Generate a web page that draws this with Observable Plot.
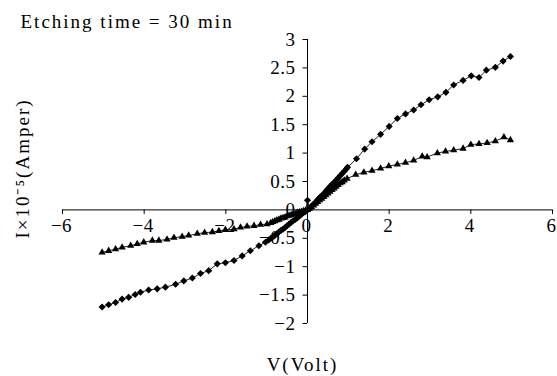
<!DOCTYPE html>
<html>
<head>
<meta charset="utf-8">
<script src="https://cdn.jsdelivr.net/npm/d3@7"></script>
<script src="https://cdn.jsdelivr.net/npm/@observablehq/plot@0.6"></script>
<style>
  html, body { margin: 0; padding: 0; background: #fff; }
  #chart svg text { letter-spacing: 2px; }
  #chart svg .ticklab text { letter-spacing: 0.5px; }
</style>
</head>
<body>
<div id="chart"></div>
<script>
const title = "Etching time = 30 min";
const xLabel = "V(Volt)";
const yLabel = "I×10⁻⁵(Amper)";
const xTicks = [-6, -4, -2, 0, 2, 4, 6];
const yTicks = [-2, -1.5, -1, -0.5, 0, 0.5, 1, 1.5, 2, 2.5, 3];

// Diamond series (steeper curve)
const diamondV = [-5.03, -4.87, -4.70, -4.54, -4.38, -4.22, -4.09, -3.89, -3.68, -3.48, -3.23, -3.03, -2.82, -2.62, -2.42, -2.21, -2.01, -1.80, -1.60, -1.40, -1.19, -1.03,
  -0.95, -0.90, -0.85, -0.80, -0.75, -0.70, -0.65, -0.60, -0.55, -0.50, -0.45, -0.40, -0.35, -0.30, -0.25, -0.20, -0.15, -0.10, -0.05, 0.00,
  0.05, 0.10, 0.15, 0.20, 0.25, 0.30, 0.35, 0.40, 0.45, 0.50, 0.55, 0.60, 0.65, 0.70, 0.75, 0.80, 0.85, 0.90, 0.95, 0.98,
  1.20, 1.40, 1.58, 1.79, 2.00, 2.20, 2.40, 2.60, 2.78, 2.98, 3.19, 3.39, 3.58, 3.81, 4.01, 4.20, 4.38, 4.60, 4.79, 4.97];
const diamondI = [-1.71, -1.67, -1.63, -1.57, -1.54, -1.49, -1.45, -1.41, -1.39, -1.36, -1.31, -1.25, -1.20, -1.12, -1.07, -0.95, -0.93, -0.89, -0.81, -0.72, -0.63, -0.57,
  -0.53, -0.50, -0.48, -0.45, -0.42, -0.39, -0.36, -0.34, -0.31, -0.28, -0.25, -0.22, -0.19, -0.17, -0.14, -0.11, -0.08, -0.05, -0.03, 0.17,
  0.03, 0.07, 0.10, 0.14, 0.18, 0.22, 0.25, 0.29, 0.33, 0.37, 0.41, 0.45, 0.48, 0.52, 0.56, 0.60, 0.64, 0.68, 0.72, 0.75,
  0.90, 1.07, 1.20, 1.33, 1.47, 1.61, 1.69, 1.76, 1.85, 1.94, 1.99, 2.07, 2.20, 2.28, 2.36, 2.33, 2.46, 2.51, 2.62, 2.70];

// Triangle series (flatter curve)
const triangleV = [-5.03, -4.87, -4.70, -4.54, -4.33, -4.17, -4.01, -3.80, -3.64, -3.44, -3.27, -3.07, -2.91, -2.70, -2.52, -2.33, -2.17, -2.01, -1.80, -1.64, -1.48, -1.31, -1.15, -0.99,
  -0.90, -0.85, -0.80, -0.75, -0.70, -0.65, -0.60, -0.55, -0.50, -0.45, -0.40, -0.35, -0.30, -0.25, -0.20, -0.15, -0.10, -0.05, 0.00,
  0.05, 0.10, 0.15, 0.20, 0.25, 0.30, 0.35, 0.40, 0.45, 0.50, 0.55, 0.60, 0.65, 0.70, 0.75, 0.80, 0.85, 0.90, 0.97,
  1.18, 1.38, 1.58, 1.79, 1.99, 2.20, 2.40, 2.60, 2.81, 2.93, 3.18, 3.38, 3.58, 3.81, 4.00, 4.20, 4.40, 4.60, 4.81, 4.97];
const triangleI = [-0.75, -0.72, -0.69, -0.66, -0.63, -0.60, -0.57, -0.54, -0.54, -0.52, -0.49, -0.47, -0.45, -0.42, -0.40, -0.39, -0.37, -0.35, -0.34, -0.31, -0.29, -0.28, -0.26, -0.25,
  -0.23, -0.21, -0.20, -0.18, -0.17, -0.15, -0.14, -0.13, -0.11, -0.10, -0.09, -0.08, -0.07, -0.05, -0.04, -0.03, -0.02, -0.01, 0.00,
  0.02, 0.05, 0.08, 0.11, 0.14, 0.17, 0.20, 0.23, 0.26, 0.29, 0.32, 0.35, 0.38, 0.41, 0.44, 0.47, 0.49, 0.52, 0.55,
  0.62, 0.66, 0.69, 0.73, 0.77, 0.80, 0.83, 0.87, 0.94, 0.93, 1.00, 1.03, 1.05, 1.08, 1.15, 1.16, 1.18, 1.21, 1.28, 1.23];

const diamonds = diamondV.map((v, i) => ({v, i: diamondI[i]}));
const triangles = triangleV.map((v, i) => ({v, i: triangleI[i]}));
const fmt = d => d < 0 ? "\u2212" + Math.abs(d) : String(d);

const font = "Liberation Serif";
const fs = 19;
const chart = Plot.plot({
  width: 557,
  height: 376,
  marginLeft: 62,
  marginRight: 5,
  marginTop: 39,
  marginBottom: 53,
  style: {fontFamily: font, fontSize: "19px", background: "#fff", color: "#000"},
  x: {domain: [-6, 6], axis: null},
  y: {domain: [-2, 3], axis: null},
  marks: [
    // tick labels (drawn first, data overlaps them)
    Plot.text(xTicks, {x: d => d, y: 0, text: fmt, dy: 16, dx: -1, textAnchor: "middle", fontSize: fs, fill: "#000", className: "ticklab"}),
    Plot.text(yTicks, {x: 0, y: d => d, text: fmt, dx: -12, textAnchor: "end", fontSize: fs, fill: "#000", className: "ticklab"}),
    // axis lines
    Plot.ruleY([0], {x1: -6, x2: 6, stroke: "#000", strokeWidth: 1}),
    Plot.ruleX([0], {y1: -2, y2: 3, stroke: "#000", strokeWidth: 1}),
    // tick marks
    Plot.ruleX(xTicks, {x: d => d, y1: 0, y2: -0.08, stroke: "#000"}),
    Plot.ruleY(yTicks, {y: d => d, x1: 0, x2: -0.11, stroke: "#000"}),
    // series
    Plot.line(diamonds, {x: "v", y: "i", stroke: "#222", strokeWidth: 1}),
    Plot.dot(diamonds, {x: "v", y: "i", symbol: "diamond2", r: 3.2, fill: "#000", stroke: "none"}),
    Plot.line(triangles, {x: "v", y: "i", stroke: "#222", strokeWidth: 1}),
    Plot.dot(triangles, {x: "v", y: "i", symbol: "triangle", r: 2.7, fill: "#000", stroke: "none"}),
    // titles
    Plot.text([title], {frameAnchor: "top-left", textAnchor: "start", lineAnchor: "bottom", dx: -42, dy: -12, fontSize: fs, fill: "#000"}),
    Plot.text([xLabel], {frameAnchor: "bottom", textAnchor: "middle", lineAnchor: "bottom", dx: -5, dy: 47, fontSize: fs, fill: "#000"}),
    Plot.text([yLabel], {frameAnchor: "left", textAnchor: "middle", rotate: -90, dx: -40, dy: -13, fontSize: fs, fill: "#000"})
  ]
});
document.getElementById("chart").appendChild(chart);
</script>
</body>
</html>
